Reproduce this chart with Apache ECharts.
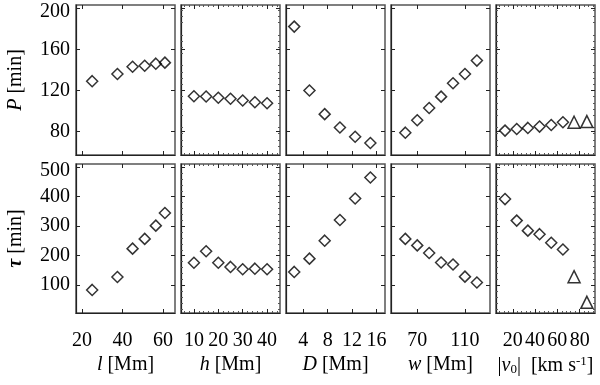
<!DOCTYPE html>
<html>
  <head>
    <meta charset="utf-8" />
    <title>Period and damping time vs loop parameters</title>
    <script src="https://cdn.jsdelivr.net/npm/echarts/dist/echarts.min.js"></script>
  </head>
  <body style="margin: 0">
    <div id="main" style="width: 600px; height: 385px"></div>
    <script type="text/javascript">
      // values
      var lVals = [25, 37.5, 45, 51, 56.5, 61];
      var lP = [129, 136, 143, 144, 146, 147];
      var lTau = [84, 128, 224, 257, 302, 345];

      var hVals = [10, 15, 20, 25, 30, 35, 40];
      var hP = [114.4, 114.1, 112.9, 111.9, 110.2, 108.6, 107.6];
      var hTau = [176, 215, 176, 162, 154, 156, 154];

      var dVals = [2.5, 5, 7.5, 10, 12.5, 15];
      var dP = [182, 120, 97, 84, 75, 69];
      var dTau = [145, 190, 251, 321, 394, 465];

      var wVals = [60, 70, 80, 90, 100, 110, 120];
      var wP = [79, 91, 103, 114, 127, 136, 149];
      var wTau = [257, 235, 209, 177, 170, 129, 109];

      var vVals = [13, 23.5, 33.5, 44, 54.5, 65];
      var vP = [81, 82.6, 83.6, 84.9, 86.5, 89.1];
      var vTau = [392, 319, 285, 273, 244, 221];
      var vTriVals = [75, 86.5];
      var vTriP = [89.1, 89.8];
      var vTriTau = [129, 42];

      // tick labels
      var pTicks = [80, 120, 160, 200];
      var tauTicks = [100, 200, 300, 400, 500];
      var xTicks = [
        [20, 40, 60],
        [10, 20, 30, 40],
        [4, 8, 12, 16],
        [70, 110],
        [20, 40, 60, 80],
      ];
      var xNames = [
        '{i|l} [Mm]',
        '{i|h} [Mm]',
        '{i|D} [Mm]',
        '{i|w} [Mm]',
        '|{i|v}{sub|0}|  [km s{sup|-1}]',
      ];

      var xRanges = [
        [17, 66],
        [4.7, 45.3],
        [1.15, 17.4],
        [48, 131],
        [4.9, 93.8],
      ];
      var yRanges = [
        [57.3, 203],
        [5.7, 511],
      ];
      // panels whose frame shows dotted minor ticks
      var minorCols = [1, 4];

      var FONT = 'Liberation Serif';
      var INK = '#000';
      var lefts = [76, 181, 286, 391, 496];
      var tops = [5, 164];
      var heights = [150, 149];

      var rich = {
        i: { fontFamily: FONT, fontSize: 20, fontStyle: 'italic', color: INK },
        ib: { fontFamily: FONT, fontSize: 20, fontStyle: 'italic', fontWeight: 'bold', color: INK },
        sub: { fontFamily: FONT, fontSize: 13, verticalAlign: 'bottom', padding: [8, 0, 0, 0], color: INK },
        sup: { fontFamily: FONT, fontSize: 13, verticalAlign: 'top', padding: [0, 0, 8, 0], color: INK },
        top: { fontFamily: FONT, fontSize: 20, color: INK, padding: [8, 0, 0, 0] },
      };

      var grids = [], xAxes = [], yAxes = [], series = [];

      function tickCfg(vals) {
        return { show: true, inside: true, length: 4, customValues: vals, lineStyle: { color: '#222', width: 1 } };
      }
      function minorCfg(c) {
        return {
          show: minorCols.indexOf(c) >= 0, splitNumber: 5, length: 2,
          lineStyle: { color: '#555', width: 1 },
        };
      }

      for (var r = 0; r < 2; r++) {
        for (var c = 0; c < 5; c++) {
          var g = grids.length;
          grids.push({
            left: lefts[c], top: tops[r], width: 99, height: heights[r],
            containLabel: false, outerBoundsMode: 'none',
            show: true, borderColor: '#555', borderWidth: 1.5, backgroundColor: 'transparent',
          });
          var bottomX = {
            type: 'value', gridIndex: g, position: 'bottom',
            min: xRanges[c][0], max: xRanges[c][1],
            splitLine: { show: false },
            axisLine: { show: true, lineStyle: { color: '#222', width: 1.2 } },
            axisTick: tickCfg(xTicks[c]),
            minorTick: minorCfg(c),
            axisLabel: {
              show: r === 1, customValues: xTicks[c], margin: 18,
              fontFamily: FONT, fontSize: 20, color: INK,
            },
          };
          if (r === 1) {
            bottomX.name = xNames[c];
            bottomX.nameLocation = 'middle';
            bottomX.nameGap = 42;
            bottomX.nameTextStyle = { fontFamily: FONT, fontSize: 20, color: INK, rich: rich };
          }
          xAxes.push(bottomX);
          xAxes.push({
            type: 'value', gridIndex: g, position: 'top',
            min: xRanges[c][0], max: xRanges[c][1],
            splitLine: { show: false }, axisLine: { show: false },
            axisTick: tickCfg(xTicks[c]), minorTick: minorCfg(c), axisLabel: { show: false },
          });
          var yt = r === 0 ? pTicks : tauTicks;
          var leftY = {
            type: 'value', gridIndex: g, position: 'left',
            min: yRanges[r][0], max: yRanges[r][1],
            splitLine: { show: false },
            axisLine: { show: true, lineStyle: { color: '#222', width: 1.2 } },
            axisTick: tickCfg(yt),
            minorTick: minorCfg(c),
            axisLabel: {
              show: c === 0, customValues: yt, margin: 6,
              fontFamily: FONT, fontSize: 20, color: INK, rich: rich,
              formatter: (function (maxTick) {
                return function (v) { return v === maxTick ? '{top|' + v + '}' : String(v); };
              })(yt[yt.length - 1]),
            },
          };
          if (c === 0) {
            leftY.name = r === 0 ? '{i|P} [min]' : '{ib|τ} [min]';
            leftY.nameLocation = 'middle';
            leftY.nameGap = 50;
            leftY.nameTextStyle = { fontFamily: FONT, fontSize: 20, color: INK, rich: rich };
          }
          yAxes.push(leftY);
          yAxes.push({
            type: 'value', gridIndex: g, position: 'right',
            min: yRanges[r][0], max: yRanges[r][1],
            splitLine: { show: false }, axisLine: { show: false },
            axisTick: tickCfg(yt), minorTick: minorCfg(c), axisLabel: { show: false },
          });
        }
      }

      var panels = [
        [lVals, lP, lTau],
        [hVals, hP, hTau],
        [dVals, dP, dTau],
        [wVals, wP, wTau],
        [vVals, vP, vTau],
      ];

      function pairs(xs, ys) {
        return xs.map(function (x, k) { return [x, ys[k]]; });
      }

      function addSeries(g, data, symbol, size) {
        series.push({
          type: 'scatter', xAxisIndex: g * 2, yAxisIndex: g * 2,
          data: data, symbol: symbol, symbolSize: size, silent: true,
          itemStyle: { color: 'rgba(0,0,0,0)', borderColor: '#000', borderWidth: 1.5 },
        });
      }

      for (var p = 0; p < 5; p++) {
        addSeries(p, pairs(panels[p][0], panels[p][1]), 'diamond', 11);
        addSeries(5 + p, pairs(panels[p][0], panels[p][2]), 'diamond', 11);
      }
      addSeries(4, pairs(vTriVals, vTriP), 'triangle', 12);
      addSeries(9, pairs(vTriVals, vTriTau), 'triangle', 12);

      var myChart = echarts.init(document.getElementById('main'));
      myChart.setOption({
        animation: false,
        backgroundColor: '#fff',
        grid: grids,
        xAxis: xAxes,
        yAxis: yAxes,
        series: series,
      });
    </script>
  </body>
</html>
